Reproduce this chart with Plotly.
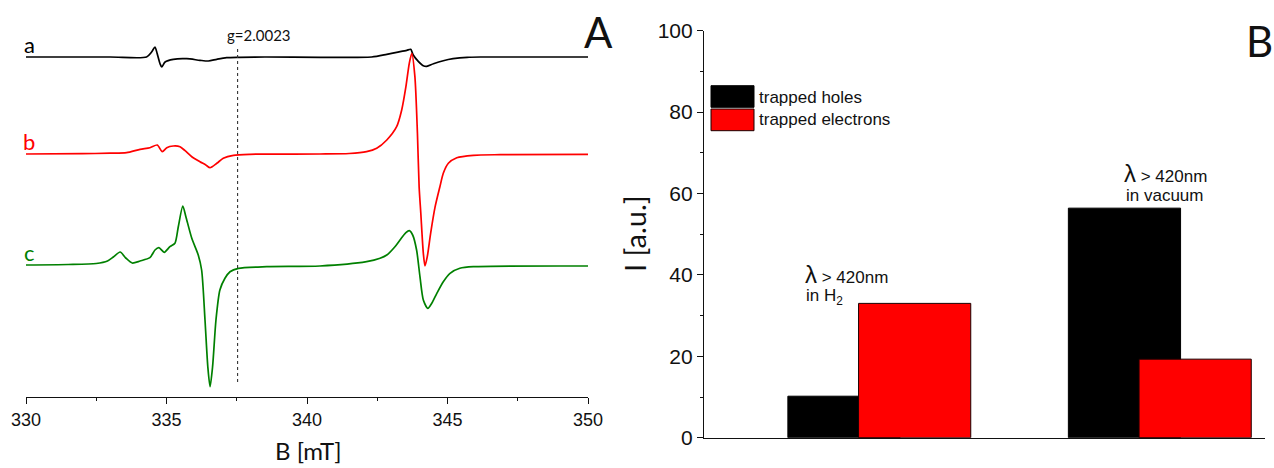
import plotly.graph_objects as go

# ---------------- data ----------------
# Panel A: EPR spectra (B in mT, intensity in arbitrary units, positive up)
A_B = [330.0, 333.0, 334.29, 334.47, 334.59, 334.67, 334.77, 334.83, 334.95, 335.24, 335.72, 336.19,
       336.49, 336.79, 337.14, 337.6, 338.5, 342.3, 342.84, 343.19, 343.55, 343.69, 343.78, 343.96,
       344.14, 344.26, 344.5, 344.85, 345.2, 345.7, 346.2, 350.0]
A_I = [0, 0, 0, 5, 10, 3.3, -6.7, -10, -5, -2.3, -1.7, -3.3,
       -4, -2.3, -0.7, -0.3, 0, 0, 2.7, 4.7, 6.7, 7.7, 2, -4.3,
       -8.7, -9.3, -6.7, -3.7, -1.7, -0.3, 0, 0]

B_B = [330.0, 332.0, 333.0, 333.58, 334.06, 334.41, 334.67, 334.85, 335.01, 335.24, 335.48, 335.66,
       335.9, 336.19, 336.4, 336.55, 336.79, 337.02, 337.38, 337.97, 340.46, 341.5, 342.12, 342.48,
       342.84, 343.19, 343.37, 343.52, 343.64, 343.73, 343.84, 343.93, 343.99, 344.05, 344.14, 344.2,
       344.28, 344.4, 344.56, 344.73, 344.85, 345.03, 345.33, 345.92, 346.87, 350.0]
B_I = [0, 0.3, 0.8, 1.3, 4.7, 6.3, 9, 2.3, 6.3, 8, 7.3, 3.3,
       -2.7, -7.7, -11, -13.7, -9.3, -4.3, -1.3, -0.3, 0, 0.5, 2.3, 5.7,
       14, 27.3, 44, 67.3, 90.7, 100.7, 77.3, 20.7, -32.7, -59.3, -99.3, -112,
       -102.7, -79.3, -52.7, -32.7, -19.3, -9.3, -3.7, -1.3, -0.7, -0.3]

C_B = [330.0, 331.5, 332.5, 332.9, 333.11, 333.35, 333.55, 333.78, 334.06, 334.41, 334.59, 334.73,
       334.92, 335.12, 335.3, 335.42, 335.58, 335.69, 335.9, 336.13, 336.25, 336.37, 336.47, 336.55,
       336.64, 336.76, 336.9, 337.08, 337.26, 337.56, 338.57, 340.46, 342.12, 342.6, 342.84, 343.13,
       343.31, 343.52, 343.64, 343.76, 343.9, 344.02, 344.14, 344.3, 344.44, 344.62, 344.85, 345.09,
       345.44, 345.92, 350.0]
C_I = [1, 1.5, 2.5, 5, 9, 14, 8, 3, 5, 8.3, 16, 18.3,
       13.7, 19.3, 22.7, 39.3, 60, 49.3, 27.7, 11, -4, -54, -100.7, -120.7,
       -100.7, -54, -24, -12.3, -5.7, -2.3, -0.7, 0, 4.3, 7.7, 11, 19.3,
       26, 33.3, 35.3, 31, 16, -10.7, -34, -42.3, -37.3, -27.3, -15.7, -7.3,
       -2.3, -0.7, 0]

SPECTRUM_LABELS = ["a", "b", "c"]
SPECTRUM_OFFSETS = [340, 243, 131]
SPECTRUM_COLORS = ["#000000", "#ff0000", "#008000"]
G_FACTOR_FIELD = 337.53
G_LINE_SPAN = [15, 349]

# Panel B: intensities
GROUP_POS = [1, 2]
HOLES = [10.2, 56.4]
ELECTRONS = [33.0, 19.3]
SERIES_NAMES = ["trapped holes", "trapped electrons"]

W, H = 1274, 468


def px(x):
    return x / W


def py(y):
    return 1 - y / H


fig = go.Figure()

spectra = [(A_B, A_I), (B_B, B_I), (C_B, C_I)]
for (bx, iy), off, col in zip(spectra, SPECTRUM_OFFSETS, SPECTRUM_COLORS):
    fig.add_trace(go.Scatter(
        x=bx, y=[v + off for v in iy], mode="lines",
        line=dict(color=col, width=1.7, shape="spline", smoothing=0.7),
        xaxis="x", yaxis="y", showlegend=False, hoverinfo="skip"))

fig.add_trace(go.Scatter(
    x=[G_FACTOR_FIELD, G_FACTOR_FIELD], y=G_LINE_SPAN, mode="lines",
    line=dict(color="#333333", width=1.1, dash="dot"),
    xaxis="x", yaxis="y", showlegend=False, hoverinfo="skip"))

fig.add_trace(go.Bar(
    x=GROUP_POS, y=HOLES, width=0.4, offset=-0.326, name=SERIES_NAMES[0],
    marker=dict(color="#000000", line=dict(color="#000000", width=1)),
    xaxis="x2", yaxis="y2", showlegend=False))
fig.add_trace(go.Bar(
    x=GROUP_POS, y=ELECTRONS, width=0.4, offset=-0.074, name=SERIES_NAMES[1],
    marker=dict(color="#ff0000", line=dict(color="#1a0000", width=1)),
    xaxis="x2", yaxis="y2", showlegend=False))

axis_font = dict(family="Arial, Liberation Sans", size=18, color="#111111")
fig.update_layout(
    width=W, height=H, autosize=False,
    margin=dict(l=0, r=0, t=0, b=0),
    paper_bgcolor="white", plot_bgcolor="white",
    barmode="overlay",
    xaxis=dict(domain=[px(26), px(588)], range=[330, 350], anchor="y",
               showline=True, linecolor="#111111", linewidth=1.2,
               ticks="outside", ticklen=6, tickwidth=1.2, tickcolor="#111111",
               tick0=330, dtick=5, tickfont=axis_font,
               minor=dict(ticks="outside", ticklen=3, tickwidth=1.2, tickcolor="#111111", dtick=2.5),
               showgrid=False, zeroline=False, automargin=False),
    yaxis=dict(domain=[py(397), 1], range=[0, 397], anchor="x",
               visible=False, showgrid=False, zeroline=False, automargin=False),
    xaxis2=dict(domain=[px(704), px(1265)], range=[0.375, 2.375], anchor="y2",
                showline=True, linecolor="#111111", linewidth=1.2,
                ticks="", showticklabels=False,
                showgrid=False, zeroline=False, automargin=False),
    yaxis2=dict(domain=[py(437.7), py(30.7)], range=[0, 100], anchor="x2",
                showline=True, linecolor="#111111", linewidth=1.2,
                ticks="outside", ticklen=6, tickwidth=1.2, tickcolor="#111111",
                tick0=0, dtick=20, tickfont=dict(family="Arial, Liberation Sans", size=21, color="#111111"),
                minor=dict(ticks="outside", ticklen=3, tickwidth=1.2, tickcolor="#111111", dtick=10),
                showgrid=False, zeroline=False, automargin=False),
)

anns = []
lato = "Lato, Open Sans, sans-serif"
for lab, col, yy in zip(SPECTRUM_LABELS, SPECTRUM_COLORS, [45, 141, 253]):
    anns.append(dict(text=lab, x=px(29), y=py(yy), font=dict(family=lato, size=22, color=col)))
anns += [
    dict(text="g=2.0023", x=px(259), y=py(35), font=dict(family=lato, size=15, color="#111111")),
    dict(text="A", x=px(598), y=py(32), font=dict(family=lato, size=42, color="#111111")),
    dict(text="B", x=px(1259), y=py(41), font=dict(family=lato, size=42, color="#111111")),
    dict(text="B [mT]", x=px(308), y=py(467), yanchor="bottom", font=dict(family=lato, size=24, color="#111111")),
    dict(text="I [a.u.]", x=px(634), y=py(234), textangle=-90, font=dict(family=lato, size=29, color="#111111")),
]
arial = "Arial, Liberation Sans"
lam = "<span style='font-size:24px'>λ</span> > 420nm"
anns += [
    dict(text=lam, x=px(803), y=py(274), xanchor="left", font=dict(family=arial, size=17, color="#111111")),
    dict(text="in H<sub>2</sub>", x=px(804), y=py(297), xanchor="left", font=dict(family=arial, size=17, color="#111111")),
    dict(text=lam, x=px(1165), y=py(173), font=dict(family=arial, size=17, color="#111111")),
    dict(text="in vacuum", x=px(1164), y=py(195), font=dict(family=arial, size=17, color="#111111")),
    dict(text=SERIES_NAMES[0], x=px(757), y=py(97), xanchor="left", font=dict(family=arial, size=17, color="#111111")),
    dict(text=SERIES_NAMES[1], x=px(757), y=py(119), xanchor="left", font=dict(family=arial, size=17, color="#111111")),
]
for a in anns:
    a.setdefault("xanchor", "center")
    a.setdefault("yanchor", "middle")
    a.update(xref="paper", yref="paper", showarrow=False)
fig.update_layout(annotations=anns)

fig.update_layout(shapes=[
    dict(type="rect", xref="paper", yref="paper", x0=px(711), x1=px(754), y0=py(107.3), y1=py(85.7),
         fillcolor="#000000", line=dict(color="#000000", width=1)),
    dict(type="rect", xref="paper", yref="paper", x0=px(711), x1=px(754), y0=py(130.7), y1=py(109),
         fillcolor="#ff0000", line=dict(color="#1a0000", width=1)),
])

fig.write_html("out.html", config={"displayModeBar": False},
               post_script="document.body.style.margin='0';document.body.style.overflow='hidden';")
